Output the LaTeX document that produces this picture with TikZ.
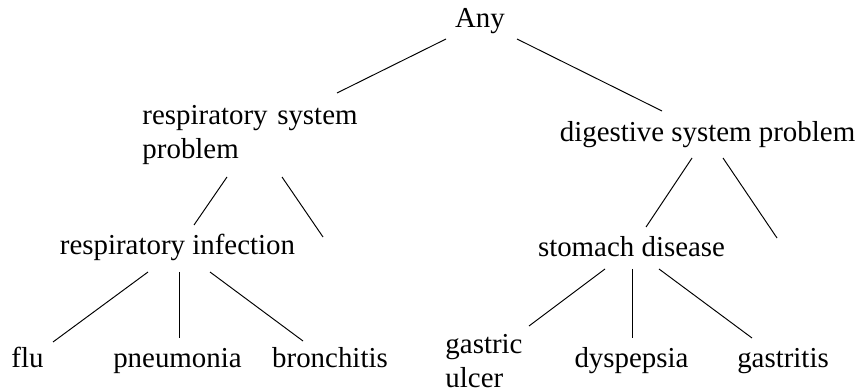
\documentclass[tikz,border=0pt]{standalone}
\usepackage{fontspec}
\setmainfont{Liberation Serif}
\usepackage{tikz}
\usetikzlibrary{positioning}

\tikzset{
  voce/.style={anchor=base, inner sep=0pt, font=\fontsize{12}{14}\selectfont},
  voce2/.style={voce, anchor=base west},
  ramo/.style={line width=0.4pt}
}

\begin{document}
\begin{tikzpicture}[x=0.4152pt, y=-0.4152pt]
\useasboundingbox (0,0) rectangle (857,392);
% Nodi
\node[voce] (any) at (480,28) {Any};
\node[voce2, text width=89.3pt, align=justify] (rsp) at (142,125) {respiratory system problem};
\node[voce] (dsp) at (707.5,142) {digestive system problem};
\node[voce] (rinf) at (177.5,255) {respiratory infection};
\node[voce] (stom) at (631.5,257) {stomach disease};
\node[voce] (flu) at (27.5,368) {flu};
\node[voce] (pneu) at (177.5,368) {pneumonia};
\node[voce] (bron) at (330,368) {bronchitis};
\node[voce2, align=left] (ulcer) at (445,387) {gastric\\ulcer};
\node[voce] (dysp) at (631.5,367) {dyspepsia};
\node[voce] (gastr) at (783,367) {gastritis};
\coordinate (rspx) at (323,237);
\coordinate (dspx) at (777,238);
% Rami
\draw[ramo] ([shift={(-34,11)}]any.base) -- ([shift={(195,-32)}]rsp.base west);
\draw[ramo] ([shift={(37,11)}]any.base) -- ([shift={(-45.5,-31)}]dsp.base);
\draw[ramo] ([shift={(85,52)}]rsp.base west) -- ([shift={(16.5,-30)}]rinf.base);
\draw[ramo] ([shift={(140,52)}]rsp.base west) -- (rspx);
\draw[ramo] ([shift={(-15.5,16)}]dsp.base) -- ([shift={(14.5,-30)}]stom.base);
\draw[ramo] ([shift={(15.5,16)}]dsp.base) -- (dspx);
\draw[ramo] ([shift={(-29.5,17)}]rinf.base) -- ([shift={(25.5,-26)}]flu.base);
\draw[ramo] ([shift={(1.5,17)}]rinf.base) -- ([shift={(1.5,-30)}]pneu.base);
\draw[ramo] ([shift={(32.5,17)}]rinf.base) -- ([shift={(-27,-27)}]bron.base);
\draw[ramo] ([shift={(-26.5,12)}]stom.base) -- ([shift={(84,-61)}]ulcer.base west);
\draw[ramo] ([shift={(0.5,12)}]stom.base) -- ([shift={(0.5,-29)}]dysp.base);
\draw[ramo] ([shift={(27.5,12)}]stom.base) -- ([shift={(-31,-29)}]gastr.base);
\end{tikzpicture}
\end{document}
